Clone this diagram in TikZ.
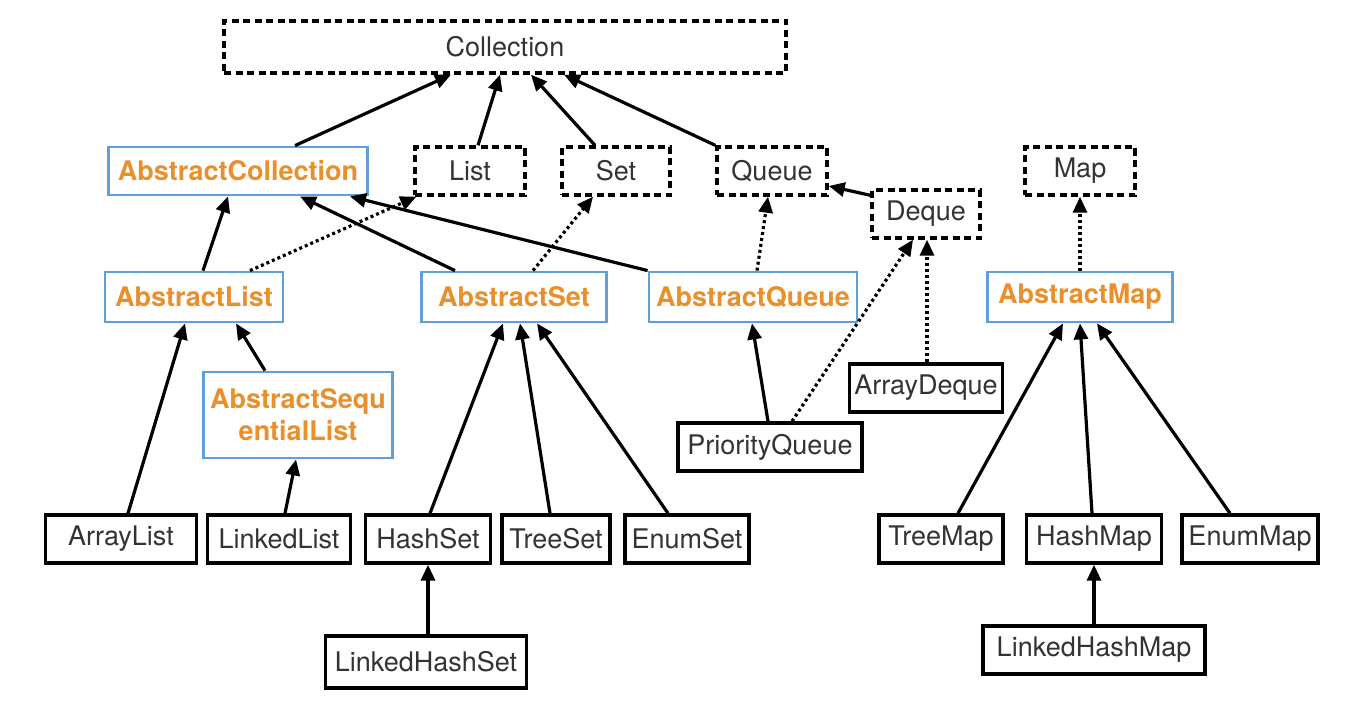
\documentclass[tikz,border=0pt]{standalone}
\usepackage{fontspec}
\setmainfont{TeX Gyre Heros}
\usetikzlibrary{arrows.meta}
\definecolor{txtgray}{HTML}{333333}
\definecolor{absorange}{HTML}{E98F2B}
\definecolor{absblue}{HTML}{5FA0D8}
\begin{document}
\begin{tikzpicture}[x=1pt,y=-1pt,
  every node/.style={font=\fontsize{27}{30}\selectfont, text=txtgray, inner sep=0pt, minimum height=48pt},
  iface/.style={draw=black, line width=3.4pt, dash pattern=on 7pt off 4.5pt},
  abstractcls/.style={draw=absblue, line width=2.8pt, text=absorange, font=\fontsize{27}{32}\selectfont\bfseries},
  concrete/.style={draw=black, line width=3.4pt},
  extends/.style={line width=3.2pt, -{Triangle[length=16pt,width=14pt]}},
  implements/.style={line width=3.2pt, dash pattern=on 3pt off 3pt, -{Triangle[length=16pt,width=14pt,sep=0pt]}}
]
\useasboundingbox (0,0) rectangle (1354,706);

% interfaces
\node[iface, minimum width=562pt, minimum height=52pt] (col) at (505,47) {Collection};
\node[iface, minimum width=110pt] (list) at (470,171) {List};
\node[iface, minimum width=108pt] (set) at (616,171) {Set};
\node[iface, minimum width=110pt] (queue) at (772,171) {Queue};
\node[iface, minimum width=108pt] (deque) at (926,214) {Deque};
\node[iface, minimum width=110pt] (map) at (1080,171) {Map};

% abstract classes
\node[abstractcls, minimum width=259pt] (ac) at (238,171) {AbstractCollection};
\node[abstractcls, minimum width=178pt, minimum height=50pt] (al) at (194,297) {AbstractList};
\node[abstractcls, minimum width=185pt, minimum height=50pt] (as) at (514,297) {AbstractSet};
\node[abstractcls, minimum width=208pt, minimum height=50pt] (aq) at (753,297) {AbstractQueue};
\node[abstractcls, minimum width=185pt, minimum height=50pt] (am) at (1080,297) {AbstractMap};
\node[abstractcls, minimum width=189pt, minimum height=86pt, align=center] (asl) at (298,415) {AbstractSequ\\entialList};

% concrete classes
\node[concrete, minimum width=151pt] (arraylist) at (121,539) {ArrayList};
\node[concrete, minimum width=143pt] (linkedlist) at (279,539) {LinkedList};
\node[concrete, minimum width=125pt] (hashset) at (428,539) {HashSet};
\node[concrete, minimum width=108pt] (treeset) at (556,539) {TreeSet};
\node[concrete, minimum width=124pt] (enumset) at (687,539) {EnumSet};
\node[concrete, minimum width=201pt, minimum height=52pt] (lhs) at (426,662) {LinkedHashSet};
\node[concrete, minimum width=184pt] (pq) at (770,447) {PriorityQueue};
\node[concrete, minimum width=153pt] (ad) at (926,388) {ArrayDeque};
\node[concrete, minimum width=124pt] (treemap) at (941,539) {TreeMap};
\node[concrete, minimum width=135pt] (hashmap) at (1094,539) {HashMap};
\node[concrete, minimum width=136pt] (enummap) at (1250,539) {EnumMap};
\node[concrete, minimum width=222pt] (lhm) at (1094,650) {LinkedHashMap};

% into Collection
\draw[extends] ([xshift=57pt]ac.north) -- ([xshift=-54pt]col.south);
\draw[extends] ([xshift=8pt]list.north) -- ([xshift=-5pt]col.south);
\draw[extends] ([xshift=-21pt]set.north) -- ([xshift=26pt]col.south);
\draw[extends] (queue.north west) -- ([xshift=59pt]col.south);
\draw[extends] ([yshift=-7pt]deque.north west) -- ([yshift=-15pt]queue.east);

% abstract level
\draw[extends] ([xshift=9pt]al.north) -- ([xshift=-10pt]ac.south);
\draw[implements] ([xshift=56pt]al.north) -- ([xshift=3pt]list.south west);
\draw[extends] ([xshift=-59pt]as.north) -- ([xshift=62pt]ac.south);
\draw[extends] (aq.north west) -- ([xshift=112pt]ac.south);
\draw[implements] ([xshift=19pt]as.north) -- ([xshift=-23pt]set.south);
\draw[implements] ([xshift=4pt]aq.north) -- ([xshift=-4pt]queue.south);
\draw[implements] (am.north) -- (map.south);

% lists
\draw[extends] ([xshift=7pt]arraylist.north) -- ([xshift=-9pt]al.south);
\draw[extends] ([xshift=-33pt]asl.north) -- ([xshift=42pt]al.south);
\draw[extends] ([xshift=6pt]linkedlist.north) -- ([xshift=-2pt]asl.south);

% sets
\draw[extends] ([xshift=2pt]hashset.north) -- ([xshift=-11pt]as.south);
\draw[extends] ([xshift=-6pt]treeset.north) -- ([xshift=6pt]as.south);
\draw[extends] ([xshift=-19pt]enumset.north) -- ([xshift=23pt]as.south);
\draw[extends] ([xshift=2pt]lhs.north) -- (hashset.south);

% queues
\draw[extends] ([xshift=-2pt]pq.north) -- ([xshift=-1pt]aq.south);
\draw[implements] ([xshift=22pt]pq.north) -- ([xshift=-13pt]deque.south);
\draw[implements] ([xshift=1pt]ad.north) -- ([xshift=1pt]deque.south);

% maps
\draw[extends] ([xshift=17pt]treemap.north) -- ([xshift=-17pt]am.south);
\draw[extends] ([xshift=-2pt]hashmap.north) -- (am.south);
\draw[extends] ([xshift=-20pt]enummap.north) -- ([xshift=17pt]am.south);
\draw[extends] (lhm.north) -- (hashmap.south);
\end{tikzpicture}
\end{document}
